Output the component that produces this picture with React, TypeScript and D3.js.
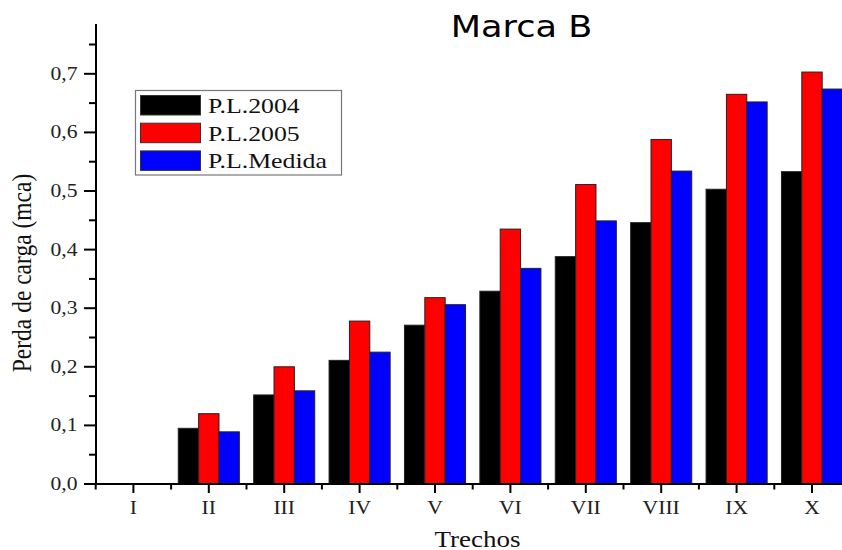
import React from "react";
import * as d3 from "d3";

const categories = ["I", "II", "III", "IV", "V", "VI", "VII", "VIII", "IX", "X"];
const seriesNames = ["P.L.2004", "P.L.2005", "P.L.Medida"];
const p2004 = [0, 0.095, 0.152, 0.211, 0.271, 0.329, 0.388, 0.446, 0.503, 0.533];
const p2005 = [0, 0.12, 0.2, 0.278, 0.318, 0.435, 0.511, 0.588, 0.665, 0.703];
const medida = [0, 0.089, 0.159, 0.225, 0.306, 0.368, 0.449, 0.534, 0.652, 0.674];
const seriesColors = ["#000000", "#ff0000", "#0000ff"];
const yTickValues = [0, 0.1, 0.2, 0.3, 0.4, 0.5, 0.6, 0.7];
const yMinorValues = [0.05, 0.15, 0.25, 0.35, 0.45, 0.55, 0.65, 0.75];

const W = 842;
const H = 550;
const SX = 1.2; // horizontal stretch of the original image text
const serif = "'Liberation Serif', 'Times New Roman', serif";

export default function App() {
  const series = [p2004, p2005, medida];
  const x = d3
    .scaleBand<string>()
    .domain(categories)
    .range([95.7, 849.7])
    .paddingInner(0.19)
    .paddingOuter(0.095);
  const xs = d3
    .scaleBand<number>()
    .domain([0, 1, 2])
    .range([0, x.bandwidth()])
    .padding(0);
  const y = d3.scaleLinear().domain([0, 0.785]).range([484, 24]);
  const step = x.step();
  const x0 = 95.7;

  const minorX = d3.range(0, categories.length + 1).map((i) => x0 + i * step);

  return (
    <svg width={W} height={H} style={{ display: "block", position: "absolute", left: 0, top: 0, background: "#fff" }}>
      <rect x={0} y={0} width={W} height={H} fill="#fff" />
      {/* Title */}
      <text
        transform={`translate(521.5,36.7) scale(1.17,1)`}
        textAnchor="middle"
        fontFamily="'DejaVu Sans', Verdana, sans-serif"
        fontSize={30}
        fill="#000"
      >
        Marca B
      </text>

      {/* Bars */}
      {categories.map((c, ci) => (
        <g key={c} transform={`translate(${x(c)},0)`}>
          {series.map((s, si) =>
            s[ci] > 0 ? (
              <rect
                key={si}
                x={xs(si)}
                y={y(s[ci])}
                width={xs.bandwidth()}
                height={y(0) - y(s[ci])}
                fill={seriesColors[si]}
                stroke="#222"
                strokeWidth={1}
              />
            ) : null
          )}
        </g>
      ))}

      {/* Y axis */}
      <line x1={96} x2={96} y1={y(0.785)} y2={y(0) + 1} stroke="#000" strokeWidth={2} />
      {yTickValues.map((v) => (
        <g key={v}>
          <line x1={84} x2={96} y1={y(v)} y2={y(v)} stroke="#000" strokeWidth={2} />
          <text
            transform={`translate(77.5,${y(v) + 6}) scale(${SX},1)`}
            textAnchor="end"
            fontFamily={serif}
            fontSize={18}
            fill="#222"
          >
            {d3.format(".1f")(v).replace(".", ",")}
          </text>
        </g>
      ))}
      {yMinorValues.map((v) => (
        <line key={v} x1={89} x2={96} y1={y(v)} y2={y(v)} stroke="#000" strokeWidth={2} />
      ))}

      {/* X axis */}
      <line x1={95} x2={W} y1={484} y2={484} stroke="#000" strokeWidth={2} />
      {categories.map((c) => {
        const cx = (x(c) as number) + x.bandwidth() / 2;
        return (
          <g key={c}>
            <line x1={cx} x2={cx} y1={484} y2={493} stroke="#000" strokeWidth={2} />
            <text
              transform={`translate(${cx},513.5) scale(${SX},1)`}
              textAnchor="middle"
              fontFamily={serif}
              fontSize={18}
              fill="#222"
            >
              {c}
            </text>
          </g>
        );
      })}
      {minorX.map((mx, i) => (
        <line key={i} x1={mx} x2={mx} y1={484} y2={489.5} stroke="#000" strokeWidth={2} />
      ))}

      {/* Axis titles */}
      <text
        transform={`translate(477.5,546.5) scale(${SX},1)`}
        textAnchor="middle"
        fontFamily={serif}
        fontSize={22.5}
        fill="#111"
      >
        Trechos
      </text>
      <text
        transform={`translate(31,273) scale(${SX},1) rotate(-90)`}
        textAnchor="middle"
        fontFamily={serif}
        fontSize={23.5}
        fill="#111"
      >
        Perda de carga (mca)
      </text>

      {/* Legend */}
      <rect x={135.5} y={90.5} width={206} height={84.5} fill="#fff" stroke="#777" strokeWidth={1.2} />
      {seriesNames.map((n, i) => (
        <g key={n}>
          <rect
            x={140.5}
            y={95.5 + i * 27.7}
            width={60}
            height={19.5}
            fill={seriesColors[i]}
            stroke="#333"
            strokeWidth={1}
          />
          <text
            transform={`translate(208,${113.3 + i * 27.4}) scale(${SX},1)`}
            fontFamily={serif}
            fontSize={21.5}
            fill="#111"
          >
            {n}
          </text>
        </g>
      ))}
    </svg>
  );
}
